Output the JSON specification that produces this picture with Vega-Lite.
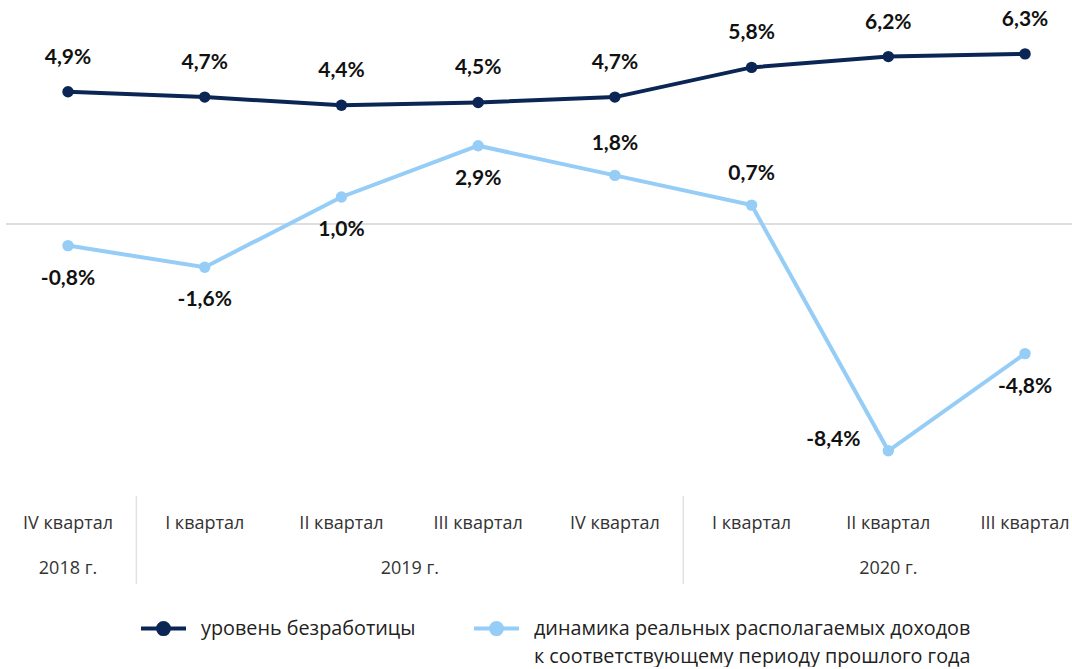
{
  "$schema": "https://vega.github.io/schema/vega-lite/v6.json",
  "padding": {"left": 5, "top": 0, "right": 0, "bottom": 0},
  "spacing": 0,
  "background": "white",
  "datasets": {
    "quarters": [
      {"period": "IV квартал 2018", "quarter": "IV квартал", "year": "2018 г.", "unemployment": 4.9, "income": -0.8},
      {"period": "I квартал 2019", "quarter": "I квартал", "year": "2019 г.", "unemployment": 4.7, "income": -1.6},
      {"period": "II квартал 2019", "quarter": "II квартал", "year": "2019 г.", "unemployment": 4.4, "income": 1.0},
      {"period": "III квартал 2019", "quarter": "III квартал", "year": "2019 г.", "unemployment": 4.5, "income": 2.9},
      {"period": "IV квартал 2019", "quarter": "IV квартал", "year": "2019 г.", "unemployment": 4.7, "income": 1.8},
      {"period": "I квартал 2020", "quarter": "I квартал", "year": "2020 г.", "unemployment": 5.8, "income": 0.7},
      {"period": "II квартал 2020", "quarter": "II квартал", "year": "2020 г.", "unemployment": 6.2, "income": -8.4},
      {"period": "III квартал 2020", "quarter": "III квартал", "year": "2020 г.", "unemployment": 6.3, "income": -4.8}
    ]
  },
  "vconcat": [
    {
      "width": 1067,
      "height": 495,
      "data": {"name": "quarters"},
      "transform": [{"fold": ["unemployment", "income"], "as": ["series", "value"]}],
      "layer": [
        {
          "mark": {"type": "rule", "color": "#dedede", "strokeWidth": 2},
          "encoding": {
            "y": {"datum": 0, "type": "quantitative", "scale": {"domain": [-10.037, 8.296], "zero": false, "nice": false}, "axis": null}
          }
        },
        {
          "encoding": {
            "x": {"field": "period", "type": "nominal", "scale": {"type": "band", "domain": ["IV квартал 2018", "I квартал 2019", "II квартал 2019", "III квартал 2019", "IV квартал 2019", "I квартал 2020", "II квартал 2020", "III квартал 2020"], "range": [-6.36, 1087.4], "paddingInner": 0, "paddingOuter": 0}, "axis": null},
            "y": {"field": "value", "type": "quantitative", "scale": {"domain": [-10.037, 8.296], "zero": false, "nice": false}, "axis": null}
          },
          "layer": [
            {
              "mark": {"type": "line", "strokeWidth": 4, "point": {"filled": true, "size": 130}},
              "encoding": {
                "color": {
                  "field": "series",
                  "type": "nominal",
                  "scale": {"domain": ["unemployment", "income"], "range": ["#0b2655", "#95cdf7"]},
                  "legend": {
                    "orient": "none",
                    "legendX": 133,
                    "legendY": 604,
                    "direction": "horizontal",
                    "title": null,
                    "padding": 0,
                    "symbolType": "M-1,0L1,0M-0.245,0A0.245,0.245,0,1,0,0.245,0A0.245,0.245,0,1,0,-0.245,0Z",
                    "symbolSize": 2025,
                    "symbolStrokeWidth": 4,
                    "labelExpr": "datum.value == 'unemployment' ? ['уровень безработицы', ' '] : ['динамика реальных располагаемых доходов', 'к соответствующему периоду прошлого года']",
                    "labelFont": "Open Sans",
                    "labelFontSize": 19.8,
                    "labelColor": "#222222",
                    "labelLimit": 800,
                    "labelOffset": 13,
                    "labelBaseline": "alphabetic",
                    "columnPadding": 50,
                    "encode": {
                      "symbols": {"update": {"fill": {"scale": "color", "field": "value"}}},
                      "labels": {"update": {"lineHeight": {"value": 28.5}, "dy": {"value": 6}}}
                    }
                  }
                }
              }
            },
            {
              "transform": [{"filter": "datum.series == 'unemployment'"}],
              "mark": {"type": "text", "dy": -34, "font": "Lato", "fontWeight": "bold", "fontSize": 21, "color": "#111111"},
              "encoding": {"text": {"field": "value", "type": "quantitative", "format": "$.1f"}}
            },
            {
              "transform": [{"filter": "datum.series == 'income' && indexof(['IV квартал 2019', 'I квартал 2020', 'II квартал 2020'], datum.period) < 0"}],
              "mark": {"type": "text", "dy": 33, "font": "Lato", "fontWeight": "bold", "fontSize": 21, "color": "#111111"},
              "encoding": {"text": {"field": "value", "type": "quantitative", "format": "$.1f"}}
            },
            {
              "transform": [{"filter": "datum.series == 'income' && indexof(['IV квартал 2019', 'I квартал 2020'], datum.period) >= 0"}],
              "mark": {"type": "text", "dy": -31, "font": "Lato", "fontWeight": "bold", "fontSize": 21, "color": "#111111"},
              "encoding": {"text": {"field": "value", "type": "quantitative", "format": "$.1f"}}
            },
            {
              "transform": [{"filter": "datum.series == 'income' && datum.period == 'II квартал 2020'"}],
              "mark": {"type": "text", "dx": -55, "dy": -11, "font": "Lato", "fontWeight": "bold", "fontSize": 21, "color": "#111111"},
              "encoding": {"text": {"field": "value", "type": "quantitative", "format": "$.1f"}}
            }
          ]
        }
      ]
    },
    {
      "width": 1067,
      "height": 88,
      "data": {"name": "quarters"},
      "layer": [
        {
          "transform": [{"filter": "datum.period == 'I квартал 2019' || datum.period == 'I квартал 2020'"}],
          "mark": {"type": "rule", "color": "#e2e2e2", "strokeWidth": 1.5},
          "encoding": {
            "x": {"field": "period", "type": "nominal", "bandPosition": 0, "scale": {"type": "band", "domain": ["IV квартал 2018", "I квартал 2019", "II квартал 2019", "III квартал 2019", "IV квартал 2019", "I квартал 2020", "II квартал 2020", "III квартал 2020"], "range": [-6.36, 1087.4], "paddingInner": 0, "paddingOuter": 0}, "axis": null}
          }
        },
        {
          "mark": {"type": "text", "font": "Open Sans", "fontSize": 18, "color": "#333333"},
          "encoding": {
            "x": {"field": "period", "type": "nominal", "axis": null},
            "y": {"datum": "quarter", "type": "nominal", "scale": {"type": "point", "domain": ["quarter", "year"], "range": [28, 73], "padding": 0}, "axis": null},
            "text": {"field": "quarter"}
          }
        },
        {
          "transform": [{"filter": "datum.period == 'IV квартал 2018' || datum.period == 'II квартал 2020'"}],
          "mark": {"type": "text", "font": "Open Sans", "fontSize": 18, "color": "#333333"},
          "encoding": {
            "x": {"field": "period", "type": "nominal", "axis": null},
            "y": {"datum": "year", "type": "nominal", "axis": null},
            "text": {"field": "year"}
          }
        },
        {
          "transform": [{"filter": "datum.period == 'III квартал 2019'"}],
          "mark": {"type": "text", "font": "Open Sans", "fontSize": 18, "color": "#333333"},
          "encoding": {
            "x": {"field": "period", "type": "nominal", "bandPosition": 0, "axis": null},
            "y": {"datum": "year", "type": "nominal", "axis": null},
            "text": {"field": "year"}
          }
        }
      ]
    }
  ],
  "config": {
    "view": {"stroke": null},
    "locale": {"number": {"decimal": ",", "thousands": " ", "grouping": [3], "currency": ["", "%"], "minus": "-"}}
  }
}
